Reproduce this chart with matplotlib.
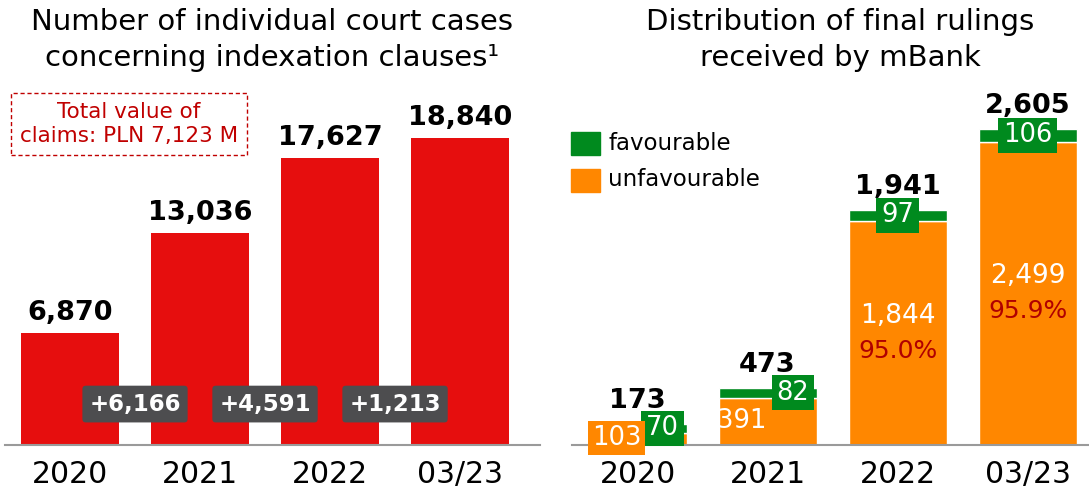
import numpy as np
import matplotlib
matplotlib.use("Agg")
import matplotlib.pyplot as plt
import matplotlib.transforms as mtransforms

plt.rcParams["font.family"] = ["DejaVu Sans"]

# ---- data ----
periods = ["2020", "2021", "2022", "03/23"]
court_cases = [6870, 13036, 17627, 18840]
case_increase = [6166, 4591, 1213]
claims_note = "Total value of\nclaims: PLN 7,123 M"

unfavourable = [103, 391, 1844, 2499]
favourable = [70, 82, 97, 106]
totals = [173, 473, 1941, 2605]
unfav_share = [None, None, "95.0%", "95.9%"]

RED = "#E60E0E"
GREEN = "#008A1E"
ORANGE = "#FF8700"
GREY_BOX = "#4D4D4F"
DARK_RED = "#B00000"
NOTE_RED = "#C00000"

W, H = 1089, 490
fig = plt.figure(figsize=(W / 100, H / 100), dpi=100)
PT = 0.72  # points per pixel at dpi 100


def px_axes(x0, y0_top, x1, y1_top):
    # axes placed in pixel coordinates measured from the top-left corner
    return fig.add_axes([x0 / W, 1 - y1_top / H, (x1 - x0) / W, (y1_top - y0_top) / H])


def clean(ax):
    for s in ["top", "right", "left"]:
        ax.spines[s].set_visible(False)
    ax.spines["bottom"].set_color("#9a9a9a")
    ax.spines["bottom"].set_linewidth(1.5)
    ax.set_yticks([])
    ax.tick_params(axis="x", length=0, pad=11, labelsize=21.5)
    ax.patch.set_alpha(0)


# ---- left chart: court cases ----
axl = px_axes(5, 0, 540, 445)
x = np.arange(len(periods))
axl.bar(x, court_cases, width=0.754, color=RED)
axl.set_xlim(-0.5, 3.615)
axl.set_ylim(0, 27309)
axl.set_xticks(x, periods)
clean(axl)

for xi, v in zip(x, court_cases):
    axl.annotate(f"{v:,}", (xi, v), xytext=(0, 5), textcoords="offset points",
                 ha="center", va="bottom", fontsize=19.5, fontweight="bold")

blend_l = mtransforms.blended_transform_factory(axl.transData, axl.transAxes)
for i, d in enumerate(case_increase):
    axl.text(i + 0.5, 0.092, f"+{d:,}", transform=blend_l, ha="center", va="center",
             color="white", fontsize=16.5, fontweight="bold",
             bbox=dict(boxstyle="round,pad=0.3,rounding_size=0.15", fc=GREY_BOX, ec="none"))

fig.text(129 / W, 1 - 124 / H, claims_note, ha="center", va="center", color=NOTE_RED,
         fontsize=15.5, linespacing=1.3,
         bbox=dict(boxstyle="square,pad=0.4", fc="white", ec=NOTE_RED, ls=(0, (3, 2)), lw=1))

fig.text(272 / W, 1 - 22 / H, "Number of individual court cases",
         ha="center", va="center", fontsize=21)
fig.text(272 / W, 1 - 58 / H, "concerning indexation clauses\u00b9",
         ha="center", va="center", fontsize=21)

# ---- right chart: rulings ----
axr = px_axes(572, 0, 1089, 445)
axr.bar(x, unfavourable, width=0.754, color=ORANGE, edgecolor="white", linewidth=1)
axr.bar(x, favourable, width=0.754, bottom=unfavourable, color=GREEN, edgecolor="white", linewidth=1)
axr.set_xlim(-0.504, 3.473)
axr.set_ylim(0, 3668)
axr.set_xticks(x, periods)
clean(axr)

for xi, t in zip(x, totals):
    axr.annotate(f"{t:,}", (xi, t), xytext=(0, 7), textcoords="offset points",
                 ha="center", va="bottom", fontsize=19.5, fontweight="bold")

fav_dx = [25, 25, 0, 0]
for xi, u, f, dx in zip(x, unfavourable, favourable, fav_dx):
    axr.annotate(f"{f}", (xi, u + f / 2), xytext=(dx * PT, 0), textcoords="offset points",
                 ha="center", va="center", color="white", fontsize=18.5,
                 bbox=dict(boxstyle="square,pad=0.18", fc=GREEN, ec="none"))

for xi, u, s in zip(x, unfavourable, unfav_share):
    if xi == 0:
        axr.annotate(f"{u}", (xi, 0), xytext=(-21 * PT, 7 * PT), textcoords="offset points",
                     ha="center", va="center", color="white", fontsize=18.5,
                     bbox=dict(boxstyle="square,pad=0.15", fc=ORANGE, ec="none"))
    elif s is None:
        axr.annotate(f"{u}", (xi, u / 2), xytext=(-26 * PT, 0), textcoords="offset points",
                     ha="center", va="center", color="white", fontsize=18.5)
    else:
        axr.annotate(f"{u:,}", (xi, u / 2), xytext=(0, 17 * PT), textcoords="offset points",
                     ha="center", va="center", color="white", fontsize=19)
        axr.annotate(s, (xi, u / 2), xytext=(0, -18 * PT), textcoords="offset points",
                     ha="center", va="center", color=DARK_RED, fontsize=18)

# legend
for yc, col, lab in [(143, GREEN, "favourable"), (180, ORANGE, "unfavourable")]:
    fig.patches.append(plt.Rectangle((571 / W, 1 - (yc + 12) / H), 29 / W, 23 / H,
                                     transform=fig.transFigure, color=col))
    fig.text(608 / W, 1 - yc / H, lab, ha="left", va="center", fontsize=16.5)

fig.text(840 / W, 1 - 22 / H, "Distribution of final rulings",
         ha="center", va="center", fontsize=21)
fig.text(840 / W, 1 - 58 / H, "received by mBank",
         ha="center", va="center", fontsize=21)

fig.savefig("out.png", dpi=100)
